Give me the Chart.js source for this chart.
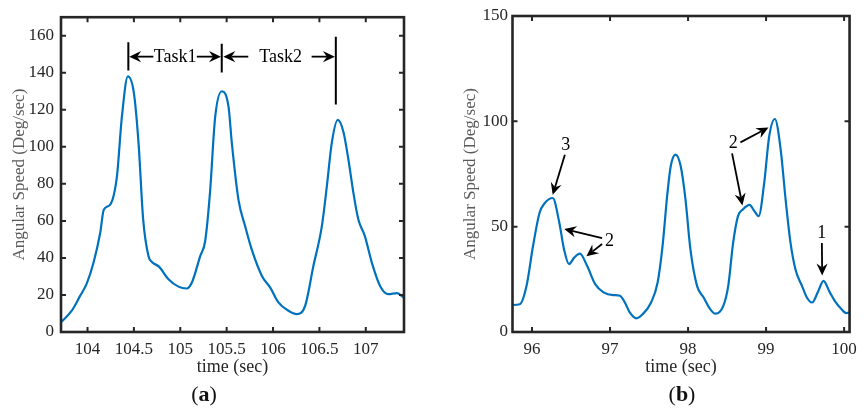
<!DOCTYPE html>
<html><head><meta charset="utf-8">
<script src="https://cdn.jsdelivr.net/npm/chart.js@4.4.0/dist/chart.umd.min.js"></script>
<style>
html,body{margin:0;padding:0;background:#fff;}
#wrap{position:relative;width:864px;height:408px;overflow:hidden;background:#fff}
canvas{position:absolute;top:0}
</style></head><body>
<div id="wrap">
<canvas id="ca" width="432" height="408" style="left:0"></canvas>
<canvas id="cb" width="432" height="408" style="left:432px"></canvas>
</div>
<script>
// ---------- panel (a) data ----------
const aTime = [103.71, 103.83, 103.92, 103.99, 104.065, 104.137, 104.175, 104.245, 104.317, 104.37, 104.435, 104.50, 104.55, 104.60, 104.657, 104.694, 104.77, 104.873, 104.98, 105.07, 105.125, 105.215, 105.268, 105.32, 105.376, 105.448, 105.52, 105.556, 105.627, 105.70, 105.77, 105.88, 105.97, 106.058, 106.166, 106.256, 106.346, 106.435, 106.526, 106.58, 106.633, 106.698, 106.759, 106.813, 106.867, 106.92, 106.99, 107.065, 107.154, 107.244, 107.334, 107.42];
const aSpeed = [5, 11.5, 19.5, 26, 37.5, 53.6, 66, 68.8, 84, 116, 138, 129, 102, 60.7, 41, 37.8, 35.3, 28.5, 24.5, 23.5, 26.7, 41, 49, 75, 116, 130, 121.7, 102, 71.5, 57, 44.6, 30.3, 24, 16, 11.5, 9.7, 14.1, 35.6, 57, 78.6, 102, 114.5, 108, 93, 75, 60.7, 51.8, 37.5, 24.9, 20.4, 21, 18.1];
const aXTicks = [104, 104.5, 105, 105.5, 106, 106.5, 107];
const aXLabels = ['104', '104.5', '105', '105.5', '106', '106.5', '107'];
const aYTicks = [0, 20, 40, 60, 80, 100, 120, 140, 160];
const aYLabels = ['0', '20', '40', '60', '80', '100', '120', '140', '160'];
// task annotations (data coordinates)
const taskLineX = [104.44, 105.447, 106.677];
const taskLineTop = [156.5, 155.7, 159.5];
const taskLineBottom = [141.2, 140.1, 122.8];
const taskArrowY = 148.7;
const taskArrowTail = [104.71, 105.178, 105.733, 106.416];
const taskArrowHead = [104.449, 105.439, 105.464, 106.667];
const taskLabels = ['Task1', 'Task2'];
const taskLabelX = [104.944, 106.083];

// ---------- panel (b) data ----------
const bTime = [95.74, 95.845, 95.93, 96.013, 96.097, 96.16, 96.265, 96.35, 96.41, 96.475, 96.54, 96.614, 96.706, 96.81, 96.917, 97.043, 97.127, 97.19, 97.253, 97.337, 97.42, 97.526, 97.61, 97.673, 97.736, 97.778, 97.84, 97.904, 97.967, 98.03, 98.115, 98.2, 98.283, 98.35, 98.452, 98.515, 98.578, 98.64, 98.704, 98.787, 98.85, 98.905, 98.976, 99.04, 99.113, 99.187, 99.25, 99.313, 99.376, 99.46, 99.523, 99.59, 99.67, 99.735, 99.817, 99.88, 99.965, 100.028, 100.08];
const bSpeed = [12.8, 13.2, 21.9, 40.8, 56.6, 61, 63.6, 51.9, 39.3, 32.2, 35.3, 37.2, 31.4, 22.7, 18.8, 17.5, 17.2, 14, 9.3, 6.5, 8.5, 14, 23.5, 40.8, 66, 78.7, 84.2, 79, 63, 39.3, 21.9, 16.4, 10.9, 8.7, 12.4, 21.9, 42.4, 55, 58.2, 60.3, 57.4, 55, 70.8, 92.9, 101.1, 86.6, 63, 42.4, 29.8, 21.9, 16.4, 14, 19.5, 24.3, 18.8, 14.8, 10.9, 9, 9.3];
const bXTicks = [96, 97, 98, 99, 100];
const bXLabels = ['96', '97', '98', '99', '100'];
const bYTicks = [0, 50, 100, 150];
const bYLabels = ['0', '50', '100', '150'];
// numbered annotations (data coordinates)
const bArrowTail = [[96.421, 84.1], [96.898, 44.6], [96.898, 41.8], [98.671, 90], [98.564, 84.8], [99.715, 42.3]];
const bArrowHead = [[96.265, 65.1], [96.413, 48.9], [96.697, 35.9], [99.031, 97.1], [98.697, 60.1], [99.719, 26.8]];
const bLabels = ['3', '2', '2', '1'];
const bLabelPos = [[96.434, 88.8], [96.993, 43.2], [98.579, 89.4], [99.715, 46.9]];

const FF = "'Liberation Serif', 'Times New Roman', serif";
const DARK = '#262626';

function drawArrow(ctx, x0, y0, x1, y1) {
  const L = 12, W = 5.6, N = 8;
  const dx = x1 - x0, dy = y1 - y0, len = Math.hypot(dx, dy);
  const ux = dx / len, uy = dy / len, px = -uy, py = ux;
  ctx.save();
  ctx.strokeStyle = '#000'; ctx.fillStyle = '#000'; ctx.lineWidth = 1.8;
  ctx.beginPath(); ctx.moveTo(x0, y0); ctx.lineTo(x1 - ux * N, y1 - uy * N); ctx.stroke();
  ctx.beginPath();
  ctx.moveTo(x1, y1);
  ctx.lineTo(x1 - ux * L + px * W, y1 - uy * L + py * W);
  ctx.lineTo(x1 - ux * N, y1 - uy * N);
  ctx.lineTo(x1 - ux * L - px * W, y1 - uy * L - py * W);
  ctx.closePath(); ctx.fill();
  ctx.restore();
}

const framePlugin = {
  id: 'frame',
  afterDatasetsDraw(chart, args, opts) {
    const {ctx, chartArea: a, scales: {x, y}} = chart;
    ctx.save();
    ctx.strokeStyle = DARK;
    ctx.lineWidth = 2;
    const TL = 5;
    ctx.beginPath();
    x.ticks.forEach(t => {
      const p = x.getPixelForValue(t.value);
      ctx.moveTo(p, a.bottom); ctx.lineTo(p, a.bottom - TL);
      ctx.moveTo(p, a.top); ctx.lineTo(p, a.top + TL);
    });
    y.ticks.forEach(t => {
      const p = y.getPixelForValue(t.value);
      ctx.moveTo(a.left, p); ctx.lineTo(a.left + TL, p);
      ctx.moveTo(a.right, p); ctx.lineTo(a.right - TL, p);
    });
    ctx.stroke();
    ctx.lineWidth = 2.6;
    ctx.strokeRect(a.left, a.top, a.right - a.left, a.bottom - a.top);
    // sub-figure label
    const lab = opts.letter, cx = opts.labelX, cy = opts.labelY;
    ctx.fillStyle = '#111';
    ctx.textBaseline = 'middle';
    ctx.textAlign = 'left';
    const fr = '22px ' + FF, fb = 'bold 22px ' + FF;
    ctx.font = fr; const wp = ctx.measureText('(').width, wq = ctx.measureText(')').width;
    ctx.font = fb; const wl = ctx.measureText(lab).width;
    let sx = cx - (wp + wl + wq) / 2;
    ctx.font = fr; ctx.fillText('(', sx, cy);
    ctx.font = fb; ctx.fillText(lab, sx + wp, cy);
    ctx.font = fr; ctx.fillText(')', sx + wp + wl, cy);
    ctx.restore();
  }
};

const taskPlugin = {
  id: 'tasks',
  afterDatasetsDraw(chart) {
    const {ctx, scales: {x, y}} = chart;
    ctx.save();
    ctx.strokeStyle = '#000'; ctx.lineWidth = 2;
    ctx.beginPath();
    taskLineX.forEach((t, i) => {
      const p = x.getPixelForValue(t);
      ctx.moveTo(p, y.getPixelForValue(taskLineTop[i]));
      ctx.lineTo(p, y.getPixelForValue(taskLineBottom[i]));
    });
    ctx.stroke();
    const ay = y.getPixelForValue(taskArrowY);
    taskArrowTail.forEach((t, i) => drawArrow(ctx, x.getPixelForValue(t), ay, x.getPixelForValue(taskArrowHead[i]), ay));
    ctx.fillStyle = '#000'; ctx.font = '18px ' + FF; ctx.textAlign = 'center'; ctx.textBaseline = 'middle';
    taskLabels.forEach((s, i) => ctx.fillText(s, x.getPixelForValue(taskLabelX[i]), ay + 1));
    ctx.restore();
  }
};

const numPlugin = {
  id: 'nums',
  afterDatasetsDraw(chart) {
    const {ctx, scales: {x, y}} = chart;
    ctx.save();
    bArrowTail.forEach((tl, i) => {
      const hd = bArrowHead[i];
      drawArrow(ctx, x.getPixelForValue(tl[0]), y.getPixelForValue(tl[1]), x.getPixelForValue(hd[0]), y.getPixelForValue(hd[1]));
    });
    ctx.fillStyle = '#000'; ctx.font = '18px ' + FF; ctx.textAlign = 'center'; ctx.textBaseline = 'middle';
    bLabels.forEach((s, i) => ctx.fillText(s, x.getPixelForValue(bLabelPos[i][0]), y.getPixelForValue(bLabelPos[i][1])));
    ctx.restore();
  }
};

function makeChart(id, c) {
  const pts = c.t.map((t, i) => ({x: t, y: c.v[i]}));
  return new Chart(document.getElementById(id), {
    type: 'line',
    data: {datasets: [{data: pts, borderColor: '#0072BD', borderWidth: 2.2, pointRadius: 0, cubicInterpolationMode: 'monotone', fill: false}]},
    options: {
      responsive: false, animation: false, events: [],
      layout: {padding: {top: 16, right: c.padRight, left: 0, bottom: 0}},
      plugins: {legend: {display: false}, tooltip: {enabled: false}, frame: {letter: c.letter, labelX: c.labelX, labelY: 395}},
      scales: {
        x: {
          type: 'linear', min: c.xMin, max: c.xMax, bounds: 'data',
          afterBuildTicks: s => { s.ticks = c.xTicks.map(v => ({value: v})); },
          afterFit: s => { s.height = 76; },
          grid: {display: false, drawTicks: false}, border: {display: false},
          ticks: {padding: 7, autoSkip: false, maxRotation: 0, color: DARK, font: {family: FF, size: 17}, callback: (v, i) => c.xLabels[i]},
          title: {display: true, text: 'time (sec)', color: DARK, font: {family: FF, size: 18}, padding: {top: 0, bottom: 30}}
        },
        y: {
          type: 'linear', min: 0, max: c.yMax, bounds: 'data',
          afterBuildTicks: s => { s.ticks = c.yTicks.map(v => ({value: v})); },
          afterFit: s => { s.width = c.yWidth; },
          grid: {display: false, drawTicks: false}, border: {display: false},
          ticks: {padding: c.yPad, autoSkip: false, color: DARK, font: {family: FF, size: 17}, callback: (v, i) => c.yLabels[i]},
          title: {display: true, text: 'Angular Speed (Deg/sec)', color: '#5a5a5a', font: {family: FF, size: 17}, padding: {top: c.yTitlePad, bottom: 0}}
        }
      }
    },
    plugins: [framePlugin, c.extra]
  });
}

makeChart('ca', {t: aTime, v: aSpeed, xMin: 103.714, xMax: 107.412, yMax: 170, xTicks: aXTicks, xLabels: aXLabels, yTicks: aYTicks, yLabels: aYLabels,
  padRight: 28, yWidth: 61, yPad: 7, yTitlePad: 9, letter: 'a', labelX: 204, extra: taskPlugin});
makeChart('cb', {t: bTime, v: bSpeed, xMin: 95.75, xMax: 100.07, yMax: 150, xTicks: bXTicks, xLabels: bXLabels, yTicks: bYTicks, yLabels: bYLabels,
  padRight: 9, yWidth: 80.5, yPad: 4.5, yTitlePad: 28, letter: 'b', labelX: 250, extra: numPlugin});
</script>
</body></html>
